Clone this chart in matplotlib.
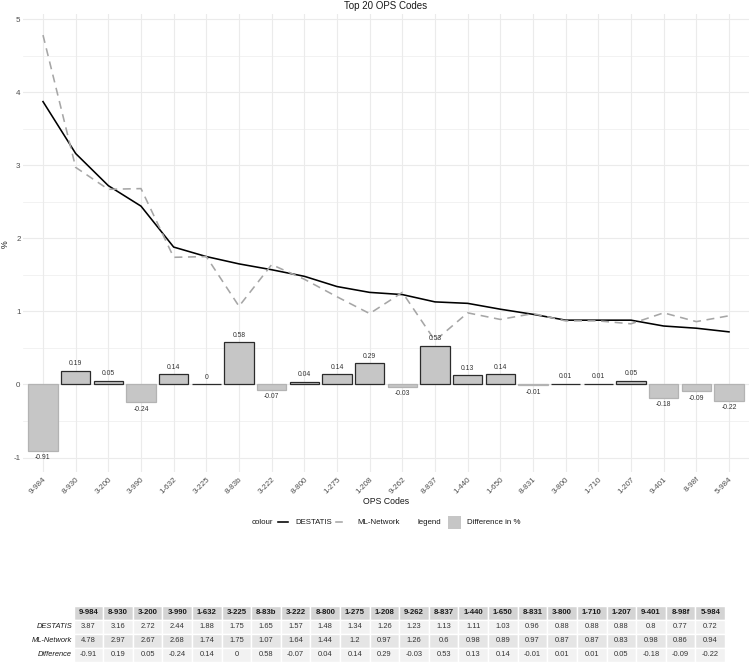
import matplotlib
matplotlib.use("Agg")
import matplotlib.pyplot as plt
from matplotlib.lines import Line2D
from matplotlib.patches import Rectangle
import numpy as np

plt.rcParams['font.family'] = ['Liberation Sans', 'DejaVu Sans']

codes = ["9-984", "8-930", "3-200", "3-990", "1-632", "3-225", "8-83b", "3-222",
         "8-800", "1-275", "1-208", "9-262", "8-837", "1-440", "1-650", "8-831",
         "3-800", "1-710", "1-207", "9-401", "8-98f", "5-984"]
destatis = [3.87, 3.16, 2.72, 2.44, 1.88, 1.75, 1.65, 1.57, 1.48, 1.34, 1.26,
            1.23, 1.13, 1.11, 1.03, 0.96, 0.88, 0.88, 0.88, 0.8, 0.77, 0.72]
ml_network = [4.78, 2.97, 2.67, 2.68, 1.74, 1.75, 1.07, 1.64, 1.44, 1.2, 0.97,
              1.26, 0.6, 0.98, 0.89, 0.97, 0.87, 0.87, 0.83, 0.98, 0.86, 0.94]
difference = [-0.91, 0.19, 0.05, -0.24, 0.14, 0, 0.58, -0.07, 0.04, 0.14, 0.29,
              -0.03, 0.53, 0.13, 0.14, -0.01, 0.01, 0.01, 0.05, -0.18, -0.09, -0.22]
row_labels = ["DESTATIS", "ML-Network", "Difference"]

W, H = 750, 664
fig = plt.figure(figsize=(7.5, 6.64), dpi=100)

def fx(px):
    return px / W

def fy(py):
    return 1 - py / H

# main panel
ymin, ymax = -1.1945, 5.0645
top_px, bot_px = 14.3, 471.8
left_px, right_px = 23.4, 748.6
ax = fig.add_axes([fx(left_px), fy(bot_px), fx(right_px - left_px), (bot_px - top_px) / H])
x = np.arange(len(codes))
ax.set_xlim(-0.6, len(codes) - 1 + 0.6)
ax.set_ylim(ymin, ymax)

grid_c = '#ebebeb'
for yv in np.arange(-1, 5.5, 0.5):
    major = float(yv).is_integer()
    ax.axhline(yv, color=grid_c, lw=0.8 if major else 0.45, zorder=0)
for xv in x:
    ax.axvline(xv, color=grid_c, lw=0.8, zorder=0)

edge = ['#2b2b2b' if d >= 0 else '#b3b3b3' for d in difference]
ax.bar(x, difference, width=0.9, color='#c6c6c6', edgecolor=edge, linewidth=0.9, zorder=2)
for xi, d in zip(x, difference):
    lab = f"{d:g}"
    if d >= 0:
        ax.annotate(lab, (xi, d), xytext=(0, 2.5), textcoords='offset points',
                    ha='center', va='bottom', fontsize=4.9, color='#333333', zorder=4)
    else:
        ax.annotate(lab, (xi, d), xytext=(0, -2.5), textcoords='offset points',
                    ha='center', va='top', fontsize=4.9, color='#333333', zorder=4)

ax.plot(x, destatis, color='black', lw=1.15, zorder=3, solid_joinstyle='round')
ax.plot(x, ml_network, color='#a6a6a6', lw=1.15, linestyle=(0, (5, 3.5)), zorder=3)

for s in ax.spines.values():
    s.set_visible(False)
ax.set_facecolor('none')
ax.tick_params(length=0, pad=2)
ax.set_yticks([-1, 0, 1, 2, 3, 4, 5])
ax.set_yticklabels(["-1", "0", "1", "2", "3", "4", "5"], fontsize=5.8, color='#4d4d4d')
ax.set_xticks(x)
ax.set_xticklabels(codes, rotation=45, ha='right', rotation_mode='anchor',
                   fontsize=5.8, color='#4d4d4d')
ax.tick_params(axis='x', pad=3)

fig.text(fx(386), fy(6), "Top 20 OPS Codes", ha='center', va='center', fontsize=7, color='#1a1a1a')
fig.text(fx(386), fy(502), "OPS Codes", ha='center', va='center', fontsize=6.3, color='#1a1a1a')
fig.text(fx(5), fy(244), "%", ha='center', va='center', fontsize=6.3, rotation=90, color='#1a1a1a')

# legend
ly = 522
fig.text(fx(252), fy(ly), "colour", ha='left', va='center', fontsize=5.7, color='#1a1a1a')
fig.add_artist(Line2D([fx(278), fx(288)], [fy(ly), fy(ly)], color='black', lw=1.15))
fig.text(fx(295), fy(ly), "DESTATIS", ha='left', va='center', fontsize=5.6, color='#1a1a1a')
fig.add_artist(Line2D([fx(336), fx(342)], [fy(ly), fy(ly)], color='#a6a6a6', lw=1.15))
fig.text(fx(357), fy(ly), "ML-Network", ha='left', va='center', fontsize=5.7, color='#1a1a1a')
fig.text(fx(417), fy(ly), "legend", ha='left', va='center', fontsize=5.7, color='#1a1a1a')
fig.add_artist(Rectangle((fx(448), fy(ly + 6.5)), fx(13), 13 / H, facecolor='#c6c6c6',
                         edgecolor='none', transform=fig.transFigure))
fig.text(fx(467), fy(ly), "Difference in %", ha='left', va='center', fontsize=5.7, color='#1a1a1a')

# table
t_left, t_right, t_top, t_bot = 73.5, 725.0, 605.5, 661.5
tax = fig.add_axes([fx(t_left), fy(t_bot), fx(t_right - t_left), (t_bot - t_top) / H])
tax.set_xlim(0, len(codes))
tax.set_ylim(4, 0)
tax.axis('off')
row_fill = ['#f2f2f2', '#e5e5e5', '#f2f2f2']
rows = [destatis, ml_network, difference]
for j, c in enumerate(codes):
    tax.add_patch(Rectangle((j, 0), 1, 1, facecolor='#d4d4d4', edgecolor='white', lw=1.0))
    tax.text(j + 0.5, 0.5, c, ha='center', va='center', fontsize=5.6, fontweight='bold', color='#1a1a1a')
    for i, r in enumerate(rows):
        tax.add_patch(Rectangle((j, i + 1), 1, 1, facecolor=row_fill[i], edgecolor='white', lw=1.0))
        tax.text(j + 0.5, i + 1.5, f"{r[j]:g}", ha='center', va='center', fontsize=5.4, color='#333333')
for i, lab in enumerate(row_labels):
    tax.text(-0.05, i + 1.5, lab, ha='right', va='center', fontsize=5.4, style='italic',
             color='#1a1a1a', clip_on=False)

fig.savefig("out.png", dpi=100)
